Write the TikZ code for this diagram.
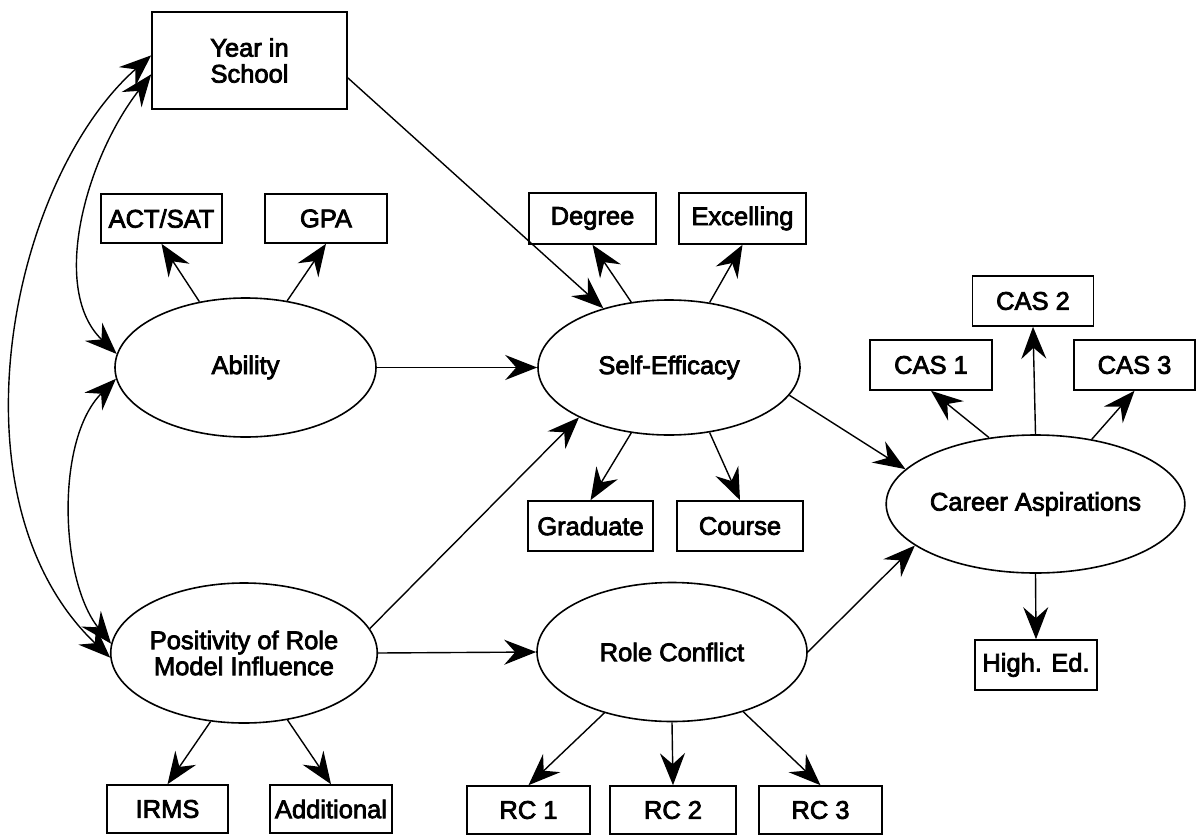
\documentclass[tikz,border=0pt]{standalone}
\usepackage{fontspec}
\setmainfont{Liberation Sans}
\newfontfamily\diagfont{Liberation Sans}[FakeBold=3]
\usetikzlibrary{arrows.meta,shapes.geometric,calc}
\begin{document}
\begin{tikzpicture}[x=1pt,y=-1pt,
  txt/.style={font=\diagfont\fontsize{25.5}{26}\selectfont},
  box/.style={txt,draw,line width=1.6pt,rectangle,inner sep=0pt,align=center},
  lat/.style={txt,draw,line width=1.6pt,ellipse,inner sep=0pt,align=center},
  conn/.style={line width=1.4pt,-{Stealth[length=32pt,width=25pt,inset=11pt]}},
  dbl/.style={line width=1.4pt,{Stealth[length=32pt,width=25pt,inset=11pt]}-{Stealth[length=32pt,width=25pt,inset=11pt]}},
]
\useasboundingbox (0,0) rectangle (1196,835);
% boxes
\node[box,minimum width=195pt,minimum height=97pt] (year) at (249.5,60.5) {Year in\\School};
\node[box,minimum width=121pt,minimum height=49pt] (act) at (161.5,218.5) {ACT/SAT};
\node[box,minimum width=122pt,minimum height=49pt] (gpa) at (326,218.5) {GPA};
\node[box,minimum width=127pt,minimum height=51pt] (degree) at (592.5,218.5) {Degree};
\node[box,minimum width=127pt,minimum height=51pt] (excel) at (742.5,218.5) {Excelling};
\node[box,minimum width=125pt,minimum height=50pt] (grad) at (590.5,526) {Graduate};
\node[box,minimum width=126pt,minimum height=50pt] (course) at (740,526) {Course};
\node[box,minimum width=121pt,minimum height=50pt] (cas2) at (1033,301) {CAS 2};
\node[box,minimum width=122pt,minimum height=50pt] (cas1) at (931,365) {CAS 1};
\node[box,minimum width=121pt,minimum height=50pt] (cas3) at (1134.5,365) {CAS 3};
\node[box,minimum width=122pt,minimum height=50pt] (hed) at (1036,665) {High. Ed.};
\node[box,minimum width=121pt,minimum height=48pt] (irms) at (167.5,809) {IRMS};
\node[box,minimum width=122pt,minimum height=48pt] (addl) at (331,809) {Additional};
\node[box,minimum width=123pt,minimum height=48pt] (rc1) at (528.5,810) {RC 1};
\node[box,minimum width=126pt,minimum height=48pt] (rc2) at (673,810) {RC 2};
\node[box,minimum width=123pt,minimum height=48pt] (rc3) at (820.5,810) {RC 3};
% latent variables
\node[lat,minimum width=261pt,minimum height=139pt] (abil) at (245.5,367.5) {Ability};
\node[lat,minimum width=262pt,minimum height=135pt] (se) at (669,367.5) {Self-Efficacy};
\node[lat,minimum width=262pt,minimum height=140pt] (pos) at (244,653) {Positivity of Role\\Model Influence};
\node[lat,minimum width=270pt,minimum height=139pt] (rc) at (672,652) {Role Conflict};
\node[lat,minimum width=261pt,minimum height=138pt] (career) at (1035.5,504) {Career Aspirations};
% structural paths
\draw[conn] (year.-10) -- (se);
\draw[conn] (abil.east) -- (se.west);
\draw[conn] (pos.11) -- (se.209);
\draw[conn] (pos.east) -- (rc.west);
\draw[conn] (se.-13) -- (career.165);
\draw[conn] (rc.east) -- (career.199);
% measurement paths
\draw[conn] (abil.125) -- (act.south);
\draw[conn] (abil.58) -- (gpa.south);
\draw[conn] (se.120) -- (degree.south);
\draw[conn] (se.58) -- (excel.south);
\draw[conn] (se.-120) -- (grad.north);
\draw[conn] (se.-58) -- (course.north);
\draw[conn] (pos.244) -- (irms.north);
\draw[conn] (pos.-57) -- (addl.north);
\draw[conn] (rc.222) -- (rc1.north);
\draw[conn] (rc.south) -- (rc2.north);
\draw[conn] (rc.-40) -- (rc3.north);
\draw[conn] (career.125) -- (cas1.south);
\draw[conn] (career.north) -- (cas2.south);
\draw[conn] (career.49) -- (cas3.south);
\draw[conn] (career.south) -- (hed.north);
% correlations
\draw[dbl] (year.188) .. controls (85,160) and (50,290) .. (abil.174);
\draw[dbl] (year.177) .. controls (10,180) and (-55,500) .. (pos.182);
\draw[dbl] (abil.185) .. controls (55,440) and (60,580) .. (pos.176);
\end{tikzpicture}
\end{document}
